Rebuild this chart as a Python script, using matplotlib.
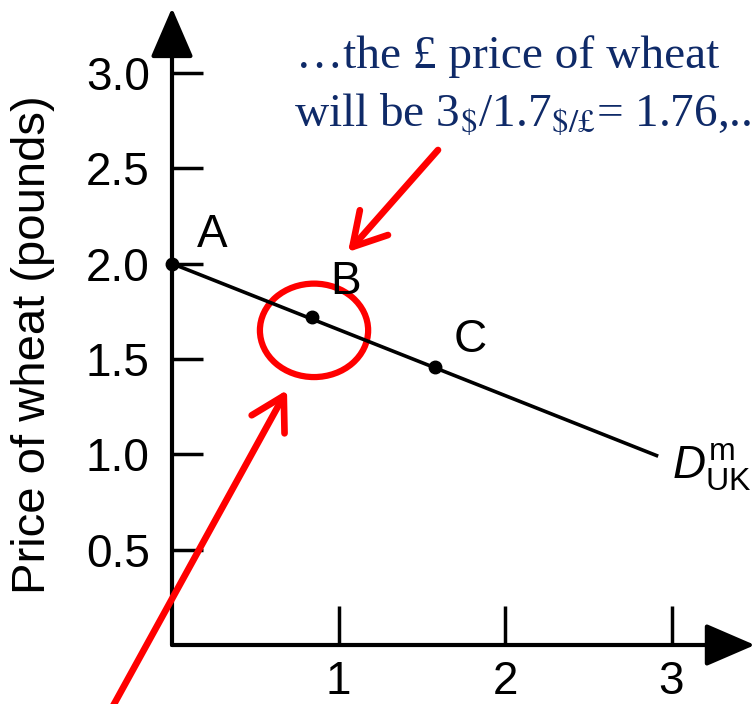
import matplotlib
matplotlib.use('Agg')
import matplotlib.pyplot as plt
from matplotlib.patches import Ellipse

# demand curve for imported wheat in the UK
demand_q = [0.0, 2.92]
demand_p = [2.0, 0.99]

# labelled points on the curve
point_names = ['A', 'B', 'C']
point_q = [0.0, 0.84, 1.58]
point_p = [2.0, 1.72, 1.46]

x_ticks = [1, 2, 3]
x_tick_labels = ['1', '2', '3']
y_ticks = [0.5, 1.0, 1.5, 2.0, 2.5, 3.0]
y_tick_labels = ['0.5', '1.0', '1.5', '2.0', '2.5', '3.0']

curve_name = r'$D^{\mathrm{m}}_{\mathrm{UK}}$'
ylabel = 'Price of wheat (pounds)'
note_1 = '\u2026the \u00a3 price of wheat'
note_2 = r'will be 3$_{\$}$/1.7$_{\$/' + '\u00a3' + r'}$= 1.76,..'


def main():
    plt.rcParams['font.family'] = ['Liberation Sans', 'DejaVu Sans']
    plt.rcParams['mathtext.fontset'] = 'custom'
    plt.rcParams['mathtext.rm'] = 'Liberation Sans'
    plt.rcParams['mathtext.it'] = 'Liberation Sans:italic'

    W, H = 752, 704
    fig = plt.figure(figsize=(W / 100, H / 100), dpi=100)

    # axes: origin at pixel (172, 645), 1 unit x = 166.5 px, 1 unit y = 190.7 px
    ax = fig.add_axes([172 / W, 59 / H, 580 / W, 637 / H])
    ax.set_xlim(0, 580 / 166.5)
    ax.set_ylim(0, 637 / 190.7)
    for s in ax.spines.values():
        s.set_visible(False)
    ax.patch.set_alpha(0)

    # axis lines with arrow heads
    arrow_kw = dict(arrowstyle='-|>,head_length=2.2,head_width=0.95',
                    mutation_scale=14, lw=3, color='k', shrinkA=0, shrinkB=0)
    ax.annotate('', xy=(0, 1.0), xycoords='axes fraction', xytext=(0, 0),
                arrowprops=arrow_kw, annotation_clip=False)
    ax.annotate('', xy=(1.005, 0), xycoords='axes fraction', xytext=(0, 0),
                arrowprops=arrow_kw, annotation_clip=False)

    ax.set_xticks(x_ticks)
    ax.set_xticklabels(x_tick_labels)
    ax.set_yticks(y_ticks)
    ax.set_yticklabels(y_tick_labels)
    ax.tick_params(axis='y', direction='in', length=22, width=2.5,
                   labelsize=33, pad=16)
    ax.tick_params(axis='x', direction='in', length=28, width=2.5,
                   labelsize=33, pad=11)

    fig.text(33 / W, 1 - 345 / H, ylabel, rotation=90, ha='center',
             va='center', fontsize=34)

    # demand curve and points
    ax.plot(demand_q, demand_p, color='k', lw=2.6, solid_capstyle='butt',
            clip_on=False)
    ax.plot(point_q, point_p, 'o', color='k', ms=9, clip_on=False)

    offsets = [(25, 17), (18, 23), (19, 15)]
    for name, q, p, off in zip(point_names, point_q, point_p, offsets):
        ax.annotate(name, (q, p), xytext=off, textcoords='offset pixels',
                    ha='left', va='baseline', fontsize=33)
    ax.annotate(curve_name, (demand_q[-1], demand_p[-1]), xytext=(14, -22),
                textcoords='offset pixels', ha='left', va='baseline',
                fontsize=33, annotation_clip=False)

    # red circle around B
    ax.add_patch(Ellipse((0.853, 1.65), 0.65, 0.49, fill=False,
                         edgecolor='#ff0000', lw=4.5))

    # note text
    navy = '#0f2a68'
    serif = ['Liberation Serif', 'DejaVu Serif']
    fig.text(296 / W, 1 - 68 / H, note_1, ha='left', va='baseline',
             fontsize=34, color=navy, family=serif)
    fig.text(294 / W, 1 - 127 / H, note_2, ha='left', va='baseline',
             fontsize=34, color=navy, family=serif, math_fontfamily='stix')

    # red arrows
    red_kw = dict(arrowstyle='->,head_length=1.3,head_width=0.75',
                  mutation_scale=18, lw=4.8, color='#ff0000',
                  shrinkA=0, shrinkB=0)
    fig_px = 'figure pixels'
    ax.annotate('', xy=(348, H - 252), xycoords=fig_px,
                xytext=(438, H - 150), textcoords=fig_px,
                arrowprops=red_kw, annotation_clip=False)
    ax.annotate('', xy=(287, H - 390), xycoords=fig_px,
                xytext=(113, H - 706), textcoords=fig_px,
                arrowprops=red_kw, annotation_clip=False)

    fig.savefig('out.png', dpi=100)


if __name__ == '__main__':
    main()
